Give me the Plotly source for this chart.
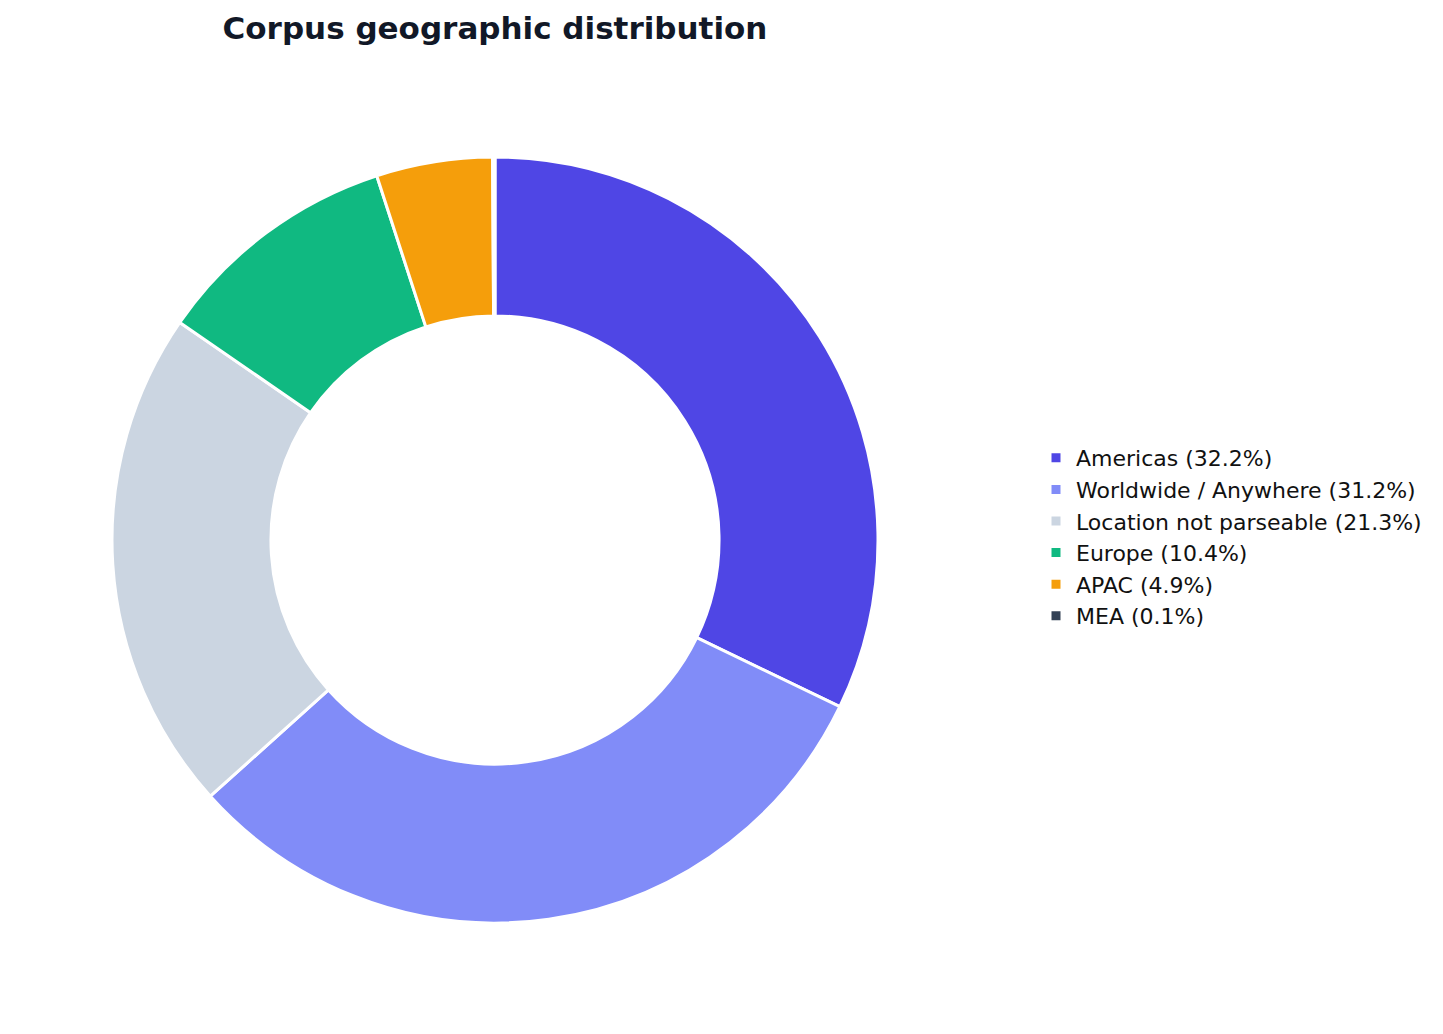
import plotly.graph_objects as go

# Region shares (percent) as shown in the legend
regions = ["Americas", "Worldwide / Anywhere", "Location not parseable", "Europe", "APAC", "MEA"]
shares = [32.2, 31.2, 21.3, 10.4, 4.9, 0.1]
colors = ["#4F46E5", "#818CF8", "#CBD5E1", "#10B981", "#F59E0B", "#334155"]

labels = [f"{r} ({s:.1f}%)" for r, s in zip(regions, shares)]

W, H = 1443, 1034
# page puts the plot ~8px in from the corner, so aim a little up/left
cx, cy, rad = 487, 532, 383

fig = go.Figure()
fig.add_trace(
    go.Pie(
        labels=labels,
        values=shares,
        marker=dict(colors=colors, line=dict(color="white", width=3)),
        hole=0.585,
        sort=False,
        direction="clockwise",
        rotation=0,
        textinfo="none",
        hoverinfo="label",
        domain=dict(
            x=[(cx - rad) / W, (cx + rad) / W],
            y=[(H - cy - rad) / H, (H - cy + rad) / H],
        ),
    )
)

fig.update_layout(
    width=W,
    height=H,
    margin=dict(l=0, r=0, t=0, b=0),
    paper_bgcolor="white",
    font=dict(family="DejaVu Sans", color="#111111"),
    title=dict(
        text="<b>Corpus geographic distribution</b>",
        x=cx / W, xanchor="center",
        y=1 - 20 / H, yanchor="middle",
        font=dict(size=31, color="#111827"),
    ),
    legend=dict(
        x=1028 / W, xanchor="left",
        y=1 - 529 / H, yanchor="middle",
        font=dict(size=22),
        bgcolor="rgba(0,0,0,0)",
    ),
)

fig.write_html("out.html")
